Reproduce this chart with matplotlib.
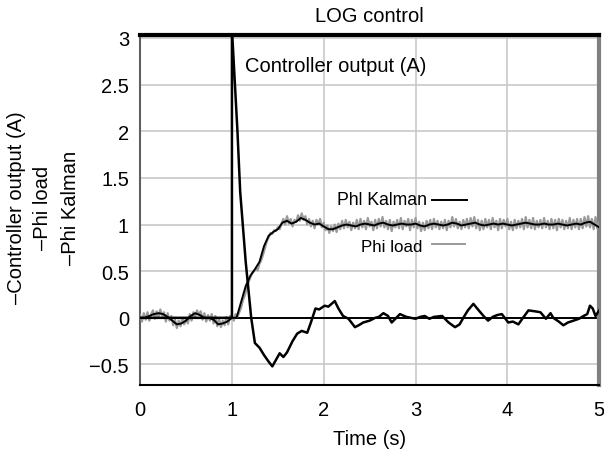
import numpy as np
import matplotlib.pyplot as plt

plt.rcParams['font.family'] = ['Liberation Sans', 'DejaVu Sans']

# controller output (A)
ctrl_t = [0.0, 1.0, 1.0, 1.06, 1.09, 1.15, 1.21, 1.25, 1.3, 1.35, 1.4, 1.44, 1.48, 1.52,
          1.56, 1.6, 1.66, 1.71, 1.76, 1.82, 1.86, 1.91, 1.95, 2.01, 2.05, 2.12, 2.16,
          2.21, 2.27, 2.34, 2.38, 2.43, 2.5, 2.56, 2.6, 2.65, 2.7, 2.74, 2.79, 2.83, 2.9,
          2.95, 3.0, 3.05, 3.1, 3.15, 3.2, 3.29, 3.36, 3.43, 3.48, 3.52, 3.57, 3.63, 3.68,
          3.74, 3.79, 3.84, 3.89, 3.94, 4.01, 4.06, 4.12, 4.17, 4.23, 4.3, 4.36, 4.42,
          4.47, 4.5, 4.56, 4.61, 4.66, 4.72, 4.78, 4.83, 4.87, 4.9, 4.93, 4.96, 5.0]
ctrl_v = [0.0, 0.0, 3.1, 2.0, 1.35, 0.6, 0.0, -0.27, -0.32, -0.4, -0.47, -0.52, -0.45, -0.38,
          -0.42, -0.37, -0.25, -0.17, -0.14, -0.16, -0.05, 0.1, 0.09, 0.13, 0.12, 0.18, 0.1,
          0.02, -0.01, -0.1, -0.08, -0.05, -0.03, 0.0, 0.01, 0.05, 0.02, -0.05, 0.0, 0.04, 0.01,
          0.0, -0.01, 0.01, 0.02, -0.01, 0.01, 0.02, -0.05, -0.1, -0.07, 0.0, 0.08, 0.15, 0.09,
          0.02, -0.03, 0.01, 0.03, 0.04, -0.05, -0.04, -0.07, 0.0, 0.08, 0.07, 0.06, -0.01,
          0.05, 0.0, -0.04, -0.08, -0.05, -0.03, -0.01, 0.02, 0.04, 0.13, 0.1, 0.02, 0.08]

# Kalman estimate, every 0.05 s
kal_t = np.arange(101) * 0.05
kal_v = [0.0, 0.0, 0.02, 0.04, 0.05, 0.04, 0.01, -0.03, -0.07, -0.06,
         -0.03, 0.02, 0.05, 0.03, 0.0, 0.0, -0.02, -0.07, -0.06, -0.04,
         0.0, 0.0, 0.17, 0.34, 0.45, 0.52, 0.6, 0.77, 0.88, 0.92,
         0.95, 1.02, 1.04, 1.01, 1.03, 1.07, 1.05, 1.02, 1.0, 1.01,
         0.98, 0.95, 0.95, 0.97, 0.99, 1.0, 0.99, 0.98, 1.0, 1.01,
         1.0, 0.99, 1.01, 1.02, 1.0, 0.99, 1.0, 1.01, 1.0, 1.0,
         1.01, 0.99, 0.98, 1.0, 1.01, 1.0, 0.99, 1.0, 1.02, 1.01,
         0.99, 1.0, 1.01, 1.02, 1.0, 0.99, 1.0, 1.01, 1.0, 1.01,
         1.0, 0.99, 1.0, 1.01, 1.02, 1.01, 1.0, 1.0, 1.01, 1.0,
         1.0, 1.01, 1.0, 0.99, 1.0, 1.01, 1.0, 1.02, 1.03, 1.0,
         0.97]

# measured load angle, every 0.02 s
load_t = np.arange(251) * 0.02
load_v = [0.03, -0.04, 0.05, -0.02, 0.06, -0.03, 0.04, 0.08, -0.01, 0.07,
          0.01, 0.09, 0.02, 0.06, -0.04, 0.05, -0.03, 0.02, -0.08, -0.02,
          -0.11, -0.03, -0.09, 0.0, -0.07, -0.01, -0.06, 0.04, -0.03, 0.06,
          0.01, 0.08, 0.03, 0.07, -0.02, 0.05, -0.04, 0.03, -0.03, 0.04,
          -0.06, 0.02, -0.09, -0.01, -0.1, -0.03, -0.08, 0.01, -0.07, 0.02,
          0.03, -0.03, 0.04, 0.01, 0.06, 0.11, 0.19, 0.24, 0.31, 0.38,
          0.43, 0.48, 0.5, 0.53, 0.51, 0.58, 0.62, 0.68, 0.75, 0.82,
          0.86, 0.91, 0.9, 0.94, 0.93, 0.97, 0.95, 1.01, 1.06, 1.0,
          1.09, 1.01, 1.06, 0.98, 1.05, 1.03, 1.1, 1.04, 1.12, 1.05,
          1.09, 1.0, 1.06, 0.98, 1.04, 0.96, 1.05, 1.0, 1.06, 0.97,
          1.02, 0.94, 0.99, 0.91, 0.98, 0.93, 1.0, 0.92, 1.01, 0.95,
          1.04, 0.96, 1.05, 0.97, 1.03, 0.94, 1.02, 0.96, 1.05, 0.95,
          1.06, 0.97, 1.04, 0.95, 1.07, 0.98, 1.03, 0.94, 1.05, 0.96,
          1.06, 0.98, 1.08, 0.97, 1.04, 0.95, 1.05, 0.93, 1.03, 0.97,
          1.05, 0.96, 1.07, 0.95, 1.04, 0.98, 1.06, 0.94, 1.05, 0.97,
          1.07, 0.96, 1.03, 0.93, 1.02, 0.94, 1.04, 0.96, 1.05, 0.95,
          1.06, 0.97, 1.04, 0.95, 1.03, 0.96, 1.05, 0.94, 1.04, 0.97,
          1.08, 0.98, 1.06, 0.96, 1.03, 0.95, 1.05, 0.97, 1.06, 0.96,
          1.07, 0.98, 1.08, 0.96, 1.05, 0.94, 1.04, 0.95, 1.06, 0.97,
          1.05, 0.95, 1.07, 0.97, 1.04, 0.94, 1.06, 0.96, 1.05, 0.98,
          1.06, 0.95, 1.03, 0.94, 1.05, 0.96, 1.04, 0.97, 1.06, 0.95,
          1.08, 0.97, 1.05, 0.96, 1.07, 0.95, 1.04, 0.97, 1.05, 0.96,
          1.07, 0.97, 1.04, 0.95, 1.06, 0.96, 1.05, 0.94, 1.06, 0.97,
          1.05, 0.95, 1.04, 0.96, 1.07, 0.95, 1.05, 0.97, 1.06, 0.95,
          1.06, 0.96, 1.08, 0.98, 1.09, 0.97, 1.06, 0.95, 1.08, 0.96,
          1.02]

xticks = [0, 1, 2, 3, 4, 5]
yticks = [-0.5, 0, 0.5, 1, 1.5, 2, 2.5, 3]
ylabels = ['–Controller output (A)', '–Phi load', '–Phi Kalman']

fig = plt.figure(figsize=(6.04, 4.52), dpi=100)
ax = fig.add_axes([0.232, 0.146, 0.76, 0.774])

ax.grid(True, color='#c8c8c8', lw=1.2)
ax.set_axisbelow(True)
ax.axhline(0, color='black', lw=1.4, zorder=2)

ax.plot(load_t, load_v, color='#9a9a9a', lw=1.6, zorder=3)
ax.plot(kal_t, kal_v, color='black', lw=1.4, zorder=4)
ax.plot(ctrl_t, ctrl_v, color='black', lw=1.8, zorder=5)

ax.set_xlim(0, 5)
ax.set_ylim(-0.72, 3.03)
ax.set_xticks(xticks)
ax.set_yticks(yticks)
ax.set_yticklabels(['−0.5', '0', '0.5', '1', '1.5', '2', '2.5', '3'])
ax.tick_params(length=0, labelsize=14.5, pad=8)
ax.tick_params(axis='x', pad=11)

ax.spines['top'].set_linewidth(3)
ax.spines['right'].set_linewidth(3)
ax.spines['right'].set_color('#808080')
ax.spines['left'].set_color('#606060')
ax.spines['left'].set_linewidth(1.5)
ax.spines['bottom'].set_linewidth(1.5)

ax.set_title('LOG control', fontsize=14.5, pad=10)
ax.set_xlabel('Time (s)', fontsize=14.5, labelpad=7)

ax.text(1.14, 2.7, 'Controller output (A)', fontsize=14.5, va='center', ha='left')
ax.text(3.13, 1.27, 'Phl Kalman', fontsize=12.7, va='center', ha='right')
ax.plot([3.18, 3.56], [1.26, 1.26], color='black', lw=1.4)
ax.text(3.07, 0.77, 'Phi load', fontsize=12.2, va='center', ha='right')
ax.plot([3.18, 3.54], [0.79, 0.79], color='#9a9a9a', lw=1.4)

for xp, lab in zip([0.028, 0.07, 0.116], ylabels):
    fig.text(xp, 0.54, lab, rotation=90, fontsize=14.5, ha='center', va='center')

fig.savefig('out.png', dpi=100)
